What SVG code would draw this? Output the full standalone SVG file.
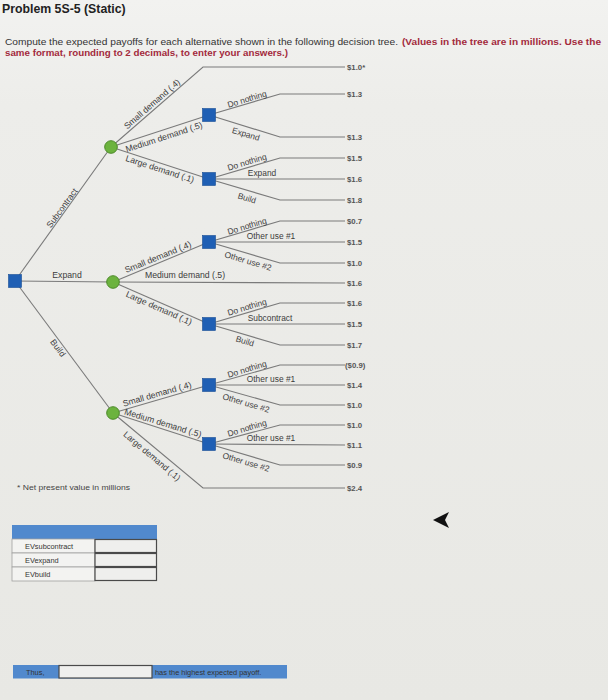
<svg xmlns="http://www.w3.org/2000/svg" width="608" height="700" viewBox="0 0 608 700">
<defs>
<linearGradient id="bgg" x1="0" y1="0" x2="0" y2="1">
<stop offset="0" stop-color="#f2f2f0"/>
<stop offset="0.15" stop-color="#ededea"/>
<stop offset="1" stop-color="#e8e8e4"/>
</linearGradient>
</defs>
<style>
.ln{fill:none;stroke:#7a7a7a;stroke-width:1.1}
.dec{fill:#1f5fb4;stroke:#174d94;stroke-width:0.6}
.chance{fill:#6cb33e;stroke:#4d8a2a;stroke-width:1}
.lbl{font-family:"Liberation Sans",Arial,sans-serif;font-size:8.7px;fill:#3c3c3c}
.dl{font-family:"Liberation Sans",Arial,sans-serif;font-size:8.4px;fill:#3c3c3c}
.val{font-family:"Liberation Sans",Arial,sans-serif;font-size:7.8px;font-weight:bold;fill:#555}
.t{font-family:"Liberation Sans",Arial,sans-serif}
.red{fill:#a32a3c;font-weight:bold}
.cell{fill:#f3f3f1;stroke:#a0a0a0;stroke-width:0.8}
.inp{fill:#efefed;stroke:#4a4a4a;stroke-width:1.2}
.blue{fill:#5189cd}
.tb{font-family:"Liberation Sans",Arial,sans-serif;font-size:7.4px;fill:#333}
</style>
<rect fill="url(#bgg)" x="0" y="0" width="608" height="700"/>

<text class="t" x="2" y="13" font-size="12.3" font-weight="bold" fill="#222">Problem 5S-5 (Static)</text>
<text class="t" x="5" y="45" font-size="9" fill="#333" textLength="393" lengthAdjust="spacingAndGlyphs">Compute the expected payoffs for each alternative shown in the following decision tree.</text>
<text class="t red" x="402" y="45" font-size="9" textLength="199" lengthAdjust="spacingAndGlyphs">(Values in the tree are in millions. Use the</text>
<text class="t red" x="5" y="56" font-size="9" textLength="283" lengthAdjust="spacingAndGlyphs">same format, rounding to 2 decimals, to enter your answers.)</text>

<g id="connectors">
  <line class="ln" x1="15" y1="281" x2="111" y2="147"/>
  <line class="ln" x1="15" y1="281" x2="113" y2="282"/>
  <line class="ln" x1="15" y1="281" x2="113" y2="413"/>
  <polyline class="ln" points="111,147 203,67 345,67"/>
  <line class="ln" x1="111" y1="147" x2="209" y2="115"/>
  <line class="ln" x1="111" y1="147" x2="209" y2="179"/>
  <polyline class="ln" points="209,115 280,94 345,94"/>
  <polyline class="ln" points="209,115 280,137 345,137"/>
  <polyline class="ln" points="209,179 280,158 345,158"/>
  <line class="ln" x1="209" y1="179" x2="345" y2="179"/>
  <polyline class="ln" points="209,179 280,200 345,200"/>
  <line class="ln" x1="113" y1="282" x2="209" y2="242"/>
  <line class="ln" x1="113" y1="282" x2="345" y2="283"/>
  <line class="ln" x1="113" y1="282" x2="209" y2="324"/>
  <polyline class="ln" points="209,242 280,221 345,221"/>
  <line class="ln" x1="209" y1="242" x2="345" y2="242"/>
  <polyline class="ln" points="209,242 280,263 345,263"/>
  <polyline class="ln" points="209,324 280,303 345,303"/>
  <line class="ln" x1="209" y1="324" x2="345" y2="324"/>
  <polyline class="ln" points="209,324 280,345 345,345"/>
  <line class="ln" x1="113" y1="413" x2="209" y2="385"/>
  <line class="ln" x1="113" y1="413" x2="209" y2="444"/>
  <polyline class="ln" points="113,413 203,488 345,488"/>
  <polyline class="ln" points="209,385 280,365 345,365"/>
  <line class="ln" x1="209" y1="385" x2="345" y2="385"/>
  <polyline class="ln" points="209,385 280,405 345,405"/>
  <polyline class="ln" points="209,444 280,425 345,425"/>
  <line class="ln" x1="209" y1="444" x2="345" y2="445"/>
  <polyline class="ln" points="209,444 280,465 345,465"/>
</g>

<g id="root"><rect class="dec" x="8.5" y="274.5" width="13" height="13"/></g>
<g id="chance-subcontract"><circle class="chance" cx="111" cy="147" r="6.3"/></g>
<g id="chance-expand"><circle class="chance" cx="113" cy="282" r="6.3"/></g>
<g id="chance-build"><circle class="chance" cx="113" cy="413" r="6.3"/></g>
<g id="dec-1"><rect class="dec" x="202.5" y="108.5" width="13" height="13"/></g>
<g id="dec-2"><rect class="dec" x="202.5" y="172.5" width="13" height="13"/></g>
<g id="dec-3"><rect class="dec" x="202.5" y="235.5" width="13" height="13"/></g>
<g id="dec-4"><rect class="dec" x="202.5" y="317.5" width="13" height="13"/></g>
<g id="dec-5"><rect class="dec" x="202.5" y="378.5" width="13" height="13"/></g>
<g id="dec-6"><rect class="dec" x="202.5" y="437.5" width="13" height="13"/></g>

<g id="labels" text-anchor="middle">
  <text class="lbl" transform="translate(62,208) rotate(-54)" y="3">Subcontract</text>
  <text class="lbl" x="67" y="278">Expand</text>
  <text class="lbl" transform="translate(58,348) rotate(53)" y="3">Build</text>

  <text class="lbl" transform="translate(152,104) rotate(-41)" y="3">Small demand (.4)</text>
  <text class="lbl" transform="translate(164,137) rotate(-18)" y="3">Medium demand (.5)</text>
  <text class="lbl" transform="translate(160,169) rotate(18)" y="3">Large demand (.1)</text>

  <text class="lbl" transform="translate(158,257) rotate(-22)" y="3">Small demand (.4)</text>
  <text class="lbl" x="185" y="278">Medium demand (.5)</text>
  <text class="lbl" transform="translate(159,308) rotate(24)" y="3">Large demand (.1)</text>

  <text class="lbl" transform="translate(157,394) rotate(-16)" y="3">Small demand (.4)</text>
  <text class="lbl" transform="translate(163,423) rotate(17)" y="3">Medium demand (.5)</text>
  <text class="lbl" transform="translate(152,456) rotate(40)" y="3">Large demand (.1)</text>

  <text class="dl" transform="translate(247,99) rotate(-16.5)" y="3">Do nothing</text>
  <text class="dl" transform="translate(246,134) rotate(16.5)" y="3">Expand</text>

  <text class="dl" transform="translate(247,162) rotate(-16.5)" y="3">Do nothing</text>
  <text class="dl" x="262" y="176">Expand</text>
  <text class="dl" transform="translate(247,198) rotate(16.5)" y="3">Build</text>

  <text class="dl" transform="translate(247,226) rotate(-16.5)" y="3">Do nothing</text>
  <text class="dl" x="271" y="239">Other use #1</text>
  <text class="dl" transform="translate(248,261) rotate(16.5)" y="3">Other use #2</text>

  <text class="dl" transform="translate(247,307) rotate(-16.5)" y="3">Do nothing</text>
  <text class="dl" x="270" y="321">Subcontract</text>
  <text class="dl" transform="translate(245,341) rotate(16.5)" y="3">Build</text>

  <text class="dl" transform="translate(247,369) rotate(-16.5)" y="3">Do nothing</text>
  <text class="dl" x="271" y="382">Other use #1</text>
  <text class="dl" transform="translate(246,403) rotate(16.5)" y="3">Other use #2</text>

  <text class="dl" transform="translate(247,428) rotate(-16.5)" y="3">Do nothing</text>
  <text class="dl" x="271" y="441">Other use #1</text>
  <text class="dl" transform="translate(246,462) rotate(16.5)" y="3">Other use #2</text>
</g>

<g id="values">
  <text class="val" x="347" y="70">$1.0*</text>
  <text class="val" x="347" y="97">$1.3</text>
  <text class="val" x="347" y="140">$1.3</text>
  <text class="val" x="347" y="161">$1.5</text>
  <text class="val" x="347" y="182">$1.6</text>
  <text class="val" x="347" y="203">$1.8</text>
  <text class="val" x="347" y="224">$0.7</text>
  <text class="val" x="347" y="245">$1.5</text>
  <text class="val" x="347" y="266">$1.0</text>
  <text class="val" x="347" y="286">$1.6</text>
  <text class="val" x="347" y="306">$1.6</text>
  <text class="val" x="347" y="327">$1.5</text>
  <text class="val" x="347" y="348">$1.7</text>
  <text class="val" x="345" y="368">($0.9)</text>
  <text class="val" x="347" y="388">$1.4</text>
  <text class="val" x="347" y="408">$1.0</text>
  <text class="val" x="347" y="428">$1.0</text>
  <text class="val" x="347" y="448">$1.1</text>
  <text class="val" x="347" y="468">$0.9</text>
  <text class="val" x="347" y="491">$2.4</text>
</g>

<text class="t" x="17" y="490" font-size="7.8" fill="#444" textLength="113" lengthAdjust="spacingAndGlyphs">* Net present value in millions</text>

<g id="ev-table">
  <rect class="blue" x="12" y="525" width="145" height="14"/>
  <rect class="cell" x="12" y="539" width="83" height="14"/>
  <rect class="cell" x="12" y="553" width="83" height="14"/>
  <rect class="cell" x="12" y="567" width="83" height="14"/>
  <rect class="inp" x="95" y="539.5" width="61.5" height="13"/>
  <rect class="inp" x="95" y="553.5" width="61.5" height="13"/>
  <rect class="inp" x="95" y="567.5" width="61.5" height="13"/>
  <text class="tb" x="25" y="549">EVsubcontract</text>
  <text class="tb" x="25" y="563">EVexpand</text>
  <text class="tb" x="25" y="577">EVbuild</text>
</g>

<g id="thus-row">
  <rect class="blue" x="13" y="665" width="274" height="13.5"/>
  <rect class="inp" x="59" y="665.5" width="93" height="12.5"/>
  <text class="tb" x="26" y="675" fill="#1f2f55">Thus,</text>
  <text class="tb" x="155" y="675" fill="#1f2f55">has the highest expected payoff.</text>
</g>

<path d="M433,520 L449,512 L445,520 L449,528 Z" fill="#111"/>
</svg>
